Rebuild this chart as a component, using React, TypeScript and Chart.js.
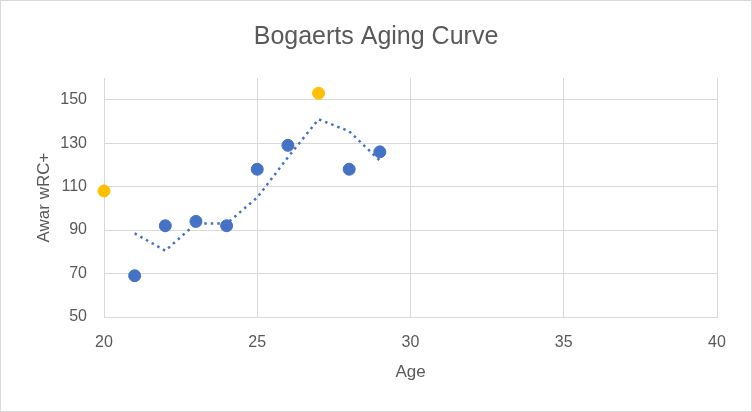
import React, { useEffect, useRef } from 'react';
import { Chart, registerables } from 'chart.js';

Chart.register(...registerables);

// Season data
const ages = [21, 22, 23, 24, 25, 26, 28, 29];
const wrcPlus = [69, 92, 94, 92, 118, 129, 118, 126];

// Highlighted (gold) seasons
const highlightAges = [20, 27];
const highlightWrc = [108, 153];

// Dotted trendline (2-period moving average)
const trendAges = [21, 22, 23, 24, 25, 26, 27, 28, 29];
const trendWrc = [88.5, 80.5, 93, 93, 105, 123.5, 141, 135.5, 122];

const yTicks = [50, 70, 90, 110, 130, 150];

const FONT = "'Liberation Sans', sans-serif";
const TEXT = '#595959';
const GRID = '#d9d9d9';

const AgingChart = () => {
  const chartRef = useRef<HTMLCanvasElement>(null);
  const chartInstance = useRef<Chart | null>(null);

  useEffect(() => {
    if (!chartRef.current) return;
    if (chartInstance.current) chartInstance.current.destroy();
    const ctx = chartRef.current.getContext('2d');
    if (!ctx) return;

    chartInstance.current = new Chart(ctx, {
      type: 'scatter',
      data: {
        datasets: [
          {
            type: 'line',
            label: 'Trend',
            data: trendAges.map((a, i) => ({ x: a, y: trendWrc[i] })),
            borderColor: '#4472c4',
            borderWidth: 2.5,
            borderDash: [2.5, 4],
            pointRadius: 0,
            fill: false,
            tension: 0,
            order: 3,
          },
          {
            label: 'wRC+',
            data: ages.map((a, i) => ({ x: a, y: wrcPlus[i] })),
            backgroundColor: '#4472c4',
            borderColor: '#4472c4',
            pointRadius: 6,
            clip: false,
            order: 1,
          },
          {
            label: 'Highlight',
            data: highlightAges.map((a, i) => ({ x: a, y: highlightWrc[i] })),
            backgroundColor: '#ffc000',
            borderColor: '#ffc000',
            pointRadius: 6,
            clip: false,
            order: 2,
          },
        ],
      },
      options: {
        responsive: false,
        animation: false,
        layout: { padding: 0 },
        plugins: {
          legend: { display: false },
          tooltip: { enabled: false },
          title: {
            display: true,
            text: 'Bogaerts Aging Curve',
            color: TEXT,
            font: { family: FONT, size: 25, weight: 'normal' },
            padding: { top: 21, bottom: 26 },
          },
        },
        scales: {
          x: {
            type: 'linear',
            min: 20,
            max: 40,
            ticks: { stepSize: 5, color: TEXT, font: { family: FONT, size: 16 }, padding: 16 },
            grid: { color: GRID, drawTicks: false },
            border: { color: GRID },
            title: {
              display: true,
              text: 'Age',
              color: TEXT,
              font: { family: FONT, size: 17 },
              padding: { top: 0, bottom: 28 },
            },
            afterFit: (scale: any) => { scale.height = 94; },
          },
          y: {
            type: 'linear',
            min: 50,
            max: 160,
            afterBuildTicks: (scale: any) => { scale.ticks = yTicks.map(v => ({ value: v })); },
            ticks: { color: TEXT, font: { family: FONT, size: 16 }, padding: 17 },
            grid: { color: GRID, drawTicks: false },
            border: { display: false },
            title: {
              display: true,
              text: 'Awar wRC+',
              color: TEXT,
              font: { family: FONT, size: 17 },
              padding: { top: 33, bottom: 0 },
            },
            afterFit: (scale: any) => { scale.width = 103; },
          },
          // empty right-hand axis, only reserves the margin so the title stays centred on the card
          yRight: {
            type: 'linear',
            position: 'right',
            min: 50,
            max: 160,
            ticks: { display: false },
            grid: { display: false, drawTicks: false },
            border: { display: false },
            afterFit: (scale: any) => { scale.width = 34; },
          },
        },
      },
    });

    return () => {
      if (chartInstance.current) chartInstance.current.destroy();
    };
  }, []);

  return <canvas ref={chartRef} width={750} height={410} style={{ display: 'block', width: 750, height: 410 }}></canvas>;
};

export default function App() {
  useEffect(() => {
    document.body.style.margin = '0';
  }, []);
  return (
    <div style={{ width: 752, height: 412, border: '1px solid #d9d9d9', boxSizing: 'border-box', background: '#fff' }}>
      <AgingChart />
    </div>
  );
}
